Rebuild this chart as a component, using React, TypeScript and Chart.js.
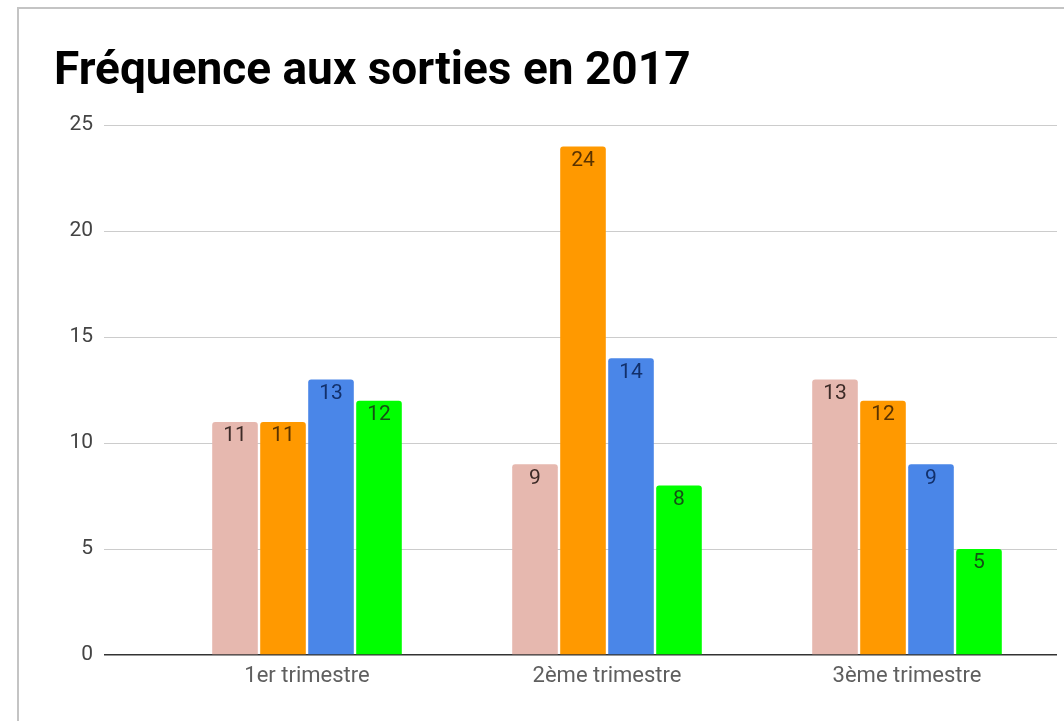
import React, { useEffect, useRef } from "react";
import { Chart, registerables } from "chart.js";

Chart.register(...registerables);

const chartTitle = "Fréquence aux sorties en 2017";
const categories = ["1er trimestre", "2ème trimestre", "3ème trimestre"];
const seriesNames = ["Série 1", "Série 2", "Série 3", "Série 4"];
const seriesPink = [11, 9, 13];
const seriesOrange = [11, 24, 12];
const seriesBlue = [13, 14, 9];
const seriesGreen = [12, 8, 5];
const yTicksMin = 0;
const yTicksMax = 25;
const yTicksStep = 5;

const barColors = ["#e6b8af", "#ff9900", "#4a86e8", "#00ff00"];
const labelColors = ["#3d2b27", "#5a3300", "#12306b", "#145214"];

const barLabels = {
  id: "barLabels",
  afterDatasetsDraw(chart: any) {
    const { ctx } = chart;
    chart.data.datasets.forEach((ds: any, i: number) => {
      const meta = chart.getDatasetMeta(i);
      meta.data.forEach((el: any, j: number) => {
        const v = ds.data[j];
        ctx.save();
        ctx.font = "21px Roboto";
        ctx.fillStyle = labelColors[i];
        ctx.textAlign = "center";
        ctx.textBaseline = "middle";
        ctx.fillText(String(v), el.x, el.y + 14);
        ctx.restore();
      });
    });
  },
};

export default function App() {
  const ref = useRef<HTMLCanvasElement | null>(null);
  useEffect(() => {
    if (!ref.current) return;
    const all = [seriesPink, seriesOrange, seriesBlue, seriesGreen];
    const chart = new Chart(ref.current, {
      type: "bar",
      data: {
        labels: categories,
        datasets: all.map((d, i) => ({
          label: seriesNames[i],
          data: d,
          backgroundColor: barColors[i],
          borderRadius: 3,
          borderSkipped: "start",
          barPercentage: 0.95,
          categoryPercentage: 0.64,
        })),
      },
      options: {
        animation: false,
        responsive: false,
        layout: { padding: { left: 35, right: 7, top: 0, bottom: 0 } },
        plugins: {
          legend: { display: false },
          tooltip: { enabled: false },
          title: {
            display: true,
            text: chartTitle,
            align: "start",
            color: "#000000",
            font: { family: "Roboto", size: 46, weight: "bold" },
            padding: { top: 36, bottom: 25 },
          },
        },
        scales: {
          x: {
            grid: { display: false, drawTicks: false },
            border: { display: false },
            ticks: {
              color: "#5f5f5f",
              font: { family: "Roboto", size: 22 },
              padding: 8,
            },
            afterFit: (axis: any) => {
              axis.height = 66;
            },
          },
          y: {
            min: yTicksMin,
            max: yTicksMax,
            border: { display: false },
            grid: {
              color: (c: any) => (c.tick && c.tick.value === 0 ? "#333333" : "#cccccc"),
              tickColor: (c: any) => (c.tick && c.tick.value === 0 ? "#333333" : "#cccccc"),
              lineWidth: (c: any) => (c.tick && c.tick.value === 0 ? 1.5 : 1),
              tickWidth: (c: any) => (c.tick && c.tick.value === 0 ? 1.5 : 1),
              drawTicks: true,
              tickLength: 53,
            },
            ticks: {
              stepSize: yTicksStep,
              color: "#444444",
              font: { family: "Roboto", size: 21 },
              padding: 11,
            },
            afterFit: (axis: any) => {
              axis.width = 103;
            },
          },
        },
      },
      plugins: [barLabels],
    } as any);
    return () => chart.destroy();
  }, []);

  return (
    <div
      style={{
        position: "fixed",
        left: 0,
        top: 0,
        width: 1064,
        height: 721,
        overflow: "hidden",
        background: "#ffffff",
      }}
    >
      <div
        style={{
          position: "absolute",
          left: 17,
          top: 7,
          width: 1100,
          height: 800,
          borderLeft: "2px solid #c4c4c4",
          borderTop: "2px solid #c4c4c4",
        }}
      />
      <canvas
        ref={ref}
        width={1045}
        height={712}
        style={{ position: "absolute", left: 19, top: 9, width: 1045, height: 712 }}
      />
    </div>
  );
}
